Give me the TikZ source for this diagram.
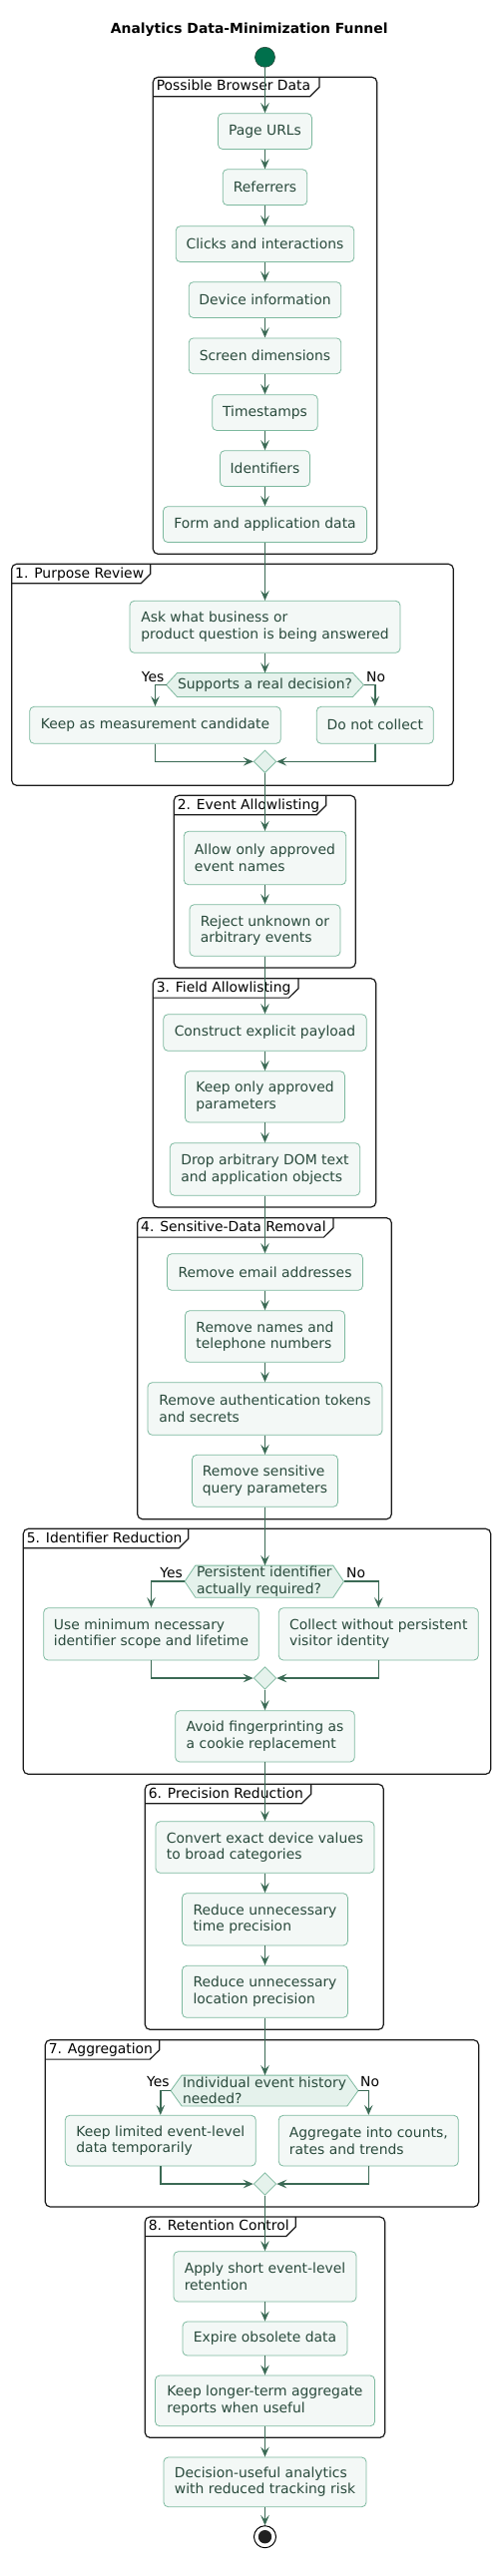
\documentclass[tikz,border=0pt]{standalone}
\usepackage{fontspec}
\setmainfont{DejaVu Sans}
\usetikzlibrary{arrows.meta,shapes.geometric}
\definecolor{boxline}{HTML}{7DB99F}
\definecolor{boxfill}{HTML}{F3F8F6}
\definecolor{boxtext}{HTML}{294A3C}
\definecolor{decfill}{HTML}{E5F2EC}
\definecolor{arrowc}{HTML}{3B6A55}
\definecolor{startc}{HTML}{00704C}
\definecolor{startborder}{HTML}{2B4A3D}
\definecolor{framec}{HTML}{1A1A1A}
\newcommand\fs{\fontsize{13.9}{16.5}\selectfont}
\tikzset{
  actbox/.style={draw=boxline, fill=boxfill, rounded corners=4.5pt, line width=0.8pt,
    text=boxtext, align=left, inner sep=0pt, font=\fs},
  decshape/.style={inner sep=0pt},
  dectext/.style={inner sep=0pt, align=left, text=boxtext, font=\fs},
  hexline/.style={draw=boxline, fill=decfill, line width=0.8pt},
  mergediamond/.style={diamond, draw=boxline, fill=decfill, minimum width=22.6pt,
    minimum height=22.6pt, inner sep=0pt, line width=0.8pt},
  flowarrow/.style={draw=arrowc, line width=1.5pt, -{Stealth[length=10pt,width=8.5pt,inset=4pt]}},
  grpframe/.style={draw=framec, line width=1.2pt},
  grplbl/.style={font=\fs, text=black, inner sep=0pt},
  branchlbl/.style={font=\fs, text=black, inner sep=0pt},
}
% name, centre x, top y, width, height, text
\newcommand\abox[6]{\node[actbox, minimum width=#4pt, minimum height=#5pt] (#1) at ({#2},{#3+#5/2}) {#6};}
% name, x1, top, x2, bottom, tab right, label
\newcommand\grp[7]{%
  \draw[grpframe, rounded corners=5pt] (#2,#3) rectangle (#4,#5);
  \draw[grpframe] (#2,{#3+19.4}) -- ({#6-9.5},{#3+19.4}) -- (#6,{#3+10}) -- (#6,#3);
  \node[grplbl, anchor=base west] (#1) at ({#2+3.3},{#3+13.7}) {#7};}
% name, centre x, top, width, height, indent, text
\newcommand\dec[7]{%
  \node[decshape, minimum width=#4pt, minimum height=#5pt] (#1) at ({#2},{#3+#5/2}) {};
  \path[hexline] (#1.west) -- ([xshift=#6pt]#1.north west) -- ([xshift=-#6pt]#1.north east)
    -- (#1.east) -- ([xshift=-#6pt]#1.south east) -- ([xshift=#6pt]#1.south west) -- cycle;
  \node[dectext] (#1t) at (#1.center) {#7};}
\begin{document}
\begin{tikzpicture}[x=1pt,y=-1pt]
\useasboundingbox (0,0) rectangle (501,2582);
\node[font=\bfseries\fs, text=black, inner sep=0pt, anchor=base] (title) at (249.7,33.3) {Analytics Data-Minimization Funnel};
\node[circle, fill=startc, draw=startborder, line width=0.6pt, minimum size=20pt, inner sep=0pt] (start) at (265.5,57.3) {};

% groups
\grp{g0}{153.3}{77.3}{377.7}{555.3}{320}{Possible Browser Data}
\grp{g1}{11.7}{565.3}{454.3}{787.3}{150.7}{1. Purpose Review}
\grp{g2}{174.3}{797.3}{356.3}{970}{326.7}{2. Event Allowlisting}
\grp{g3}{153.3}{980.7}{376.7}{1210}{299}{3. Field Allowlisting}
\grp{g4}{137.7}{1220.7}{392.3}{1522.7}{334}{4. Sensitive-Data Removal}
\grp{g5}{23.3}{1532.3}{491.7}{1778.3}{188.7}{5. Identifier Reduction}
\grp{g6}{145.3}{1788.3}{384.3}{2034.3}{311.7}{6. Precision Reduction}
\grp{g7}{45.3}{2044.7}{479.7}{2212}{159.7}{7. Aggregation}
\grp{g8}{145.3}{2222}{385.7}{2443.3}{296.3}{8. Retention Control}

% group 0
\abox{n01}{265.5}{113.7}{94}{35.8}{Page URLs}
\abox{n02}{265.5}{169.8}{84.6}{35.8}{Referrers}
\abox{n03}{265.5}{226.7}{178.6}{35.8}{Clicks and interactions}
\abox{n04}{265.5}{282.7}{152.6}{35.8}{Device information}
\abox{n05}{265.5}{338.9}{152.6}{35.8}{Screen dimensions}
\abox{n06}{265.5}{395.7}{105.6}{35.8}{Timestamps}
\abox{n07}{265.5}{451.7}{90}{35.8}{Identifiers}
\abox{n08}{265.5}{507.7}{204}{35.8}{Form and application data}

% group 1
\abox{n11}{265.5}{602.3}{271}{52}{Ask what business or\\product question is being answered}
\dec{d1}{265.5}{674.7}{197.6}{23.6}{11}{Supports a real decision?}
\abox{n12}{155.5}{708.3}{251.6}{37}{Keep as measurement candidate}
\abox{n13}{375.8}{708.3}{117}{37}{Do not collect}
\node[mergediamond] (m1) at (265.5,763.3) {};

% group 2
\abox{n21}{265.5}{833.3}{162.4}{53.4}{Allow only approved\\event names}
\abox{n22}{265.5}{906.7}{151}{51.6}{Reject unknown or\\arbitrary events}

% group 3
\abox{n31}{265.5}{1016.7}{203.4}{36.6}{Construct explicit payload}
\abox{n32}{265.5}{1073.7}{160}{51.3}{Keep only approved\\parameters}
\abox{n33}{265.5}{1145.7}{190.4}{52.6}{Drop arbitrary DOM text\\and application objects}

% group 4
\abox{n41}{265.5}{1256.7}{196}{36.6}{Remove email addresses}
\abox{n42}{265.5}{1313.7}{160}{51.6}{Remove names and\\telephone numbers}
\abox{n43}{265.5}{1385.7}{235}{52.6}{Remove authentication tokens\\and secrets}
\abox{n44}{265.5}{1458.3}{146}{52}{Remove sensitive\\query parameters}

% group 5
\dec{d5}{264.8}{1569.3}{159}{31.7}{10.7}{Persistent identifier\\actually required?}
\abox{n51}{151.5}{1611.7}{215.6}{52.3}{Use minimum necessary\\identifier scope and lifetime}
\abox{n52}{379.3}{1611.7}{200}{52.3}{Collect without persistent\\visitor identity}
\node[mergediamond] (m5) at (265.5,1682) {};
\abox{n53}{265.5}{1714.7}{179.6}{51.3}{Avoid fingerprinting as\\a cookie replacement}

% group 6
\abox{n61}{265.5}{1825.7}{219}{51.6}{Convert exact device values\\to broad categories}
\abox{n62}{265.5}{1897.7}{166}{52.3}{Reduce unnecessary\\time precision}
\abox{n63}{265.5}{1970.3}{166}{52}{Reduce unnecessary\\location precision}

% group 7
\dec{d7}{265}{2080.3}{187.4}{30.4}{11}{Individual event history\\needed?}
\abox{n71}{160.8}{2120.3}{191}{50.7}{Keep limited event-level\\data temporarily}
\abox{n72}{369.3}{2120.3}{180}{50.7}{Aggregate into counts,\\rates and trends}
\node[mergediamond] (m7) at (265.5,2189) {};

% group 8
\abox{n81}{265.5}{2256.7}{183}{50.3}{Apply short event-level\\retention}
\abox{n82}{265.5}{2327}{165}{34}{Expire obsolete data}
\abox{n83}{265.5}{2381}{220}{50.7}{Keep longer-term aggregate\\reports when useful}

\abox{n9}{265.5}{2463}{203}{49.7}{Decision-useful analytics\\with reduced tracking risk}
\node[circle, draw=black, line width=1pt, fill=white, minimum size=22pt, inner sep=0pt,
  path picture={\fill[black!87] (path picture bounding box.center) circle (6.7pt);}] (end) at (265.5,2542.7) {};

% branch labels
\node[branchlbl, anchor=base east] (y1) at ([xshift=-2pt,yshift=3.4pt]d1.west) {Yes};
\node[branchlbl, anchor=base west] (no1) at ([xshift=2.4pt,yshift=3.4pt]d1.east) {No};
\node[branchlbl, anchor=base east] (y5) at ([xshift=-2pt,yshift=3.6pt]d5.west) {Yes};
\node[branchlbl, anchor=base west] (no5) at ([xshift=2.4pt,yshift=3.6pt]d5.east) {No};
\node[branchlbl, anchor=base east] (y7) at ([xshift=-1.3pt,yshift=3.6pt]d7.west) {Yes};
\node[branchlbl, anchor=base west] (no7) at ([xshift=2pt,yshift=3.6pt]d7.east) {No};

% connectors
\draw[flowarrow] (start.south) -- (n01.north);
\draw[flowarrow] (n01.south) -- (n02.north);
\draw[flowarrow] (n02.south) -- (n03.north);
\draw[flowarrow] (n03.south) -- (n04.north);
\draw[flowarrow] (n04.south) -- (n05.north);
\draw[flowarrow] (n05.south) -- (n06.north);
\draw[flowarrow] (n06.south) -- (n07.north);
\draw[flowarrow] (n07.south) -- (n08.north);
\draw[flowarrow] (n08.south) -- (n11.north);
\draw[flowarrow] (n11.south) -- (d1.north);
\draw[flowarrow] (d1.west) -| (n12.north);
\draw[flowarrow] (d1.east) -| (n13.north);
\draw[flowarrow] (n12.south) |- (m1.west);
\draw[flowarrow] (n13.south) |- (m1.east);
\draw[flowarrow] (m1.south) -- (n21.north);
\draw[flowarrow] (n21.south) -- (n22.north);
\draw[flowarrow] (n22.south) -- (n31.north);
\draw[flowarrow] (n31.south) -- (n32.north);
\draw[flowarrow] (n32.south) -- (n33.north);
\draw[flowarrow] (n33.south) -- (n41.north);
\draw[flowarrow] (n41.south) -- (n42.north);
\draw[flowarrow] (n42.south) -- (n43.north);
\draw[flowarrow] (n43.south) -- (n44.north);
\draw[flowarrow] (n44.south) -- (n44.south |- d5.north);
\draw[flowarrow] (d5.west) -| (n51.north);
\draw[flowarrow] (d5.east) -| (n52.north);
\draw[flowarrow] (n51.south) |- (m5.west);
\draw[flowarrow] (n52.south) |- (m5.east);
\draw[flowarrow] (m5.south) -- (n53.north);
\draw[flowarrow] (n53.south) -- (n61.north);
\draw[flowarrow] (n61.south) -- (n62.north);
\draw[flowarrow] (n62.south) -- (n63.north);
\draw[flowarrow] (n63.south) -- (n63.south |- d7.north);
\draw[flowarrow] (d7.west) -| (n71.north);
\draw[flowarrow] (d7.east) -| (n72.north);
\draw[flowarrow] (n71.south) |- (m7.west);
\draw[flowarrow] (n72.south) |- (m7.east);
\draw[flowarrow] (m7.south) -- (n81.north);
\draw[flowarrow] (n81.south) -- (n82.north);
\draw[flowarrow] (n82.south) -- (n83.north);
\draw[flowarrow] (n83.south) -- (n9.north);
\draw[flowarrow] (n9.south) -- (end.north);
\end{tikzpicture}
\end{document}
